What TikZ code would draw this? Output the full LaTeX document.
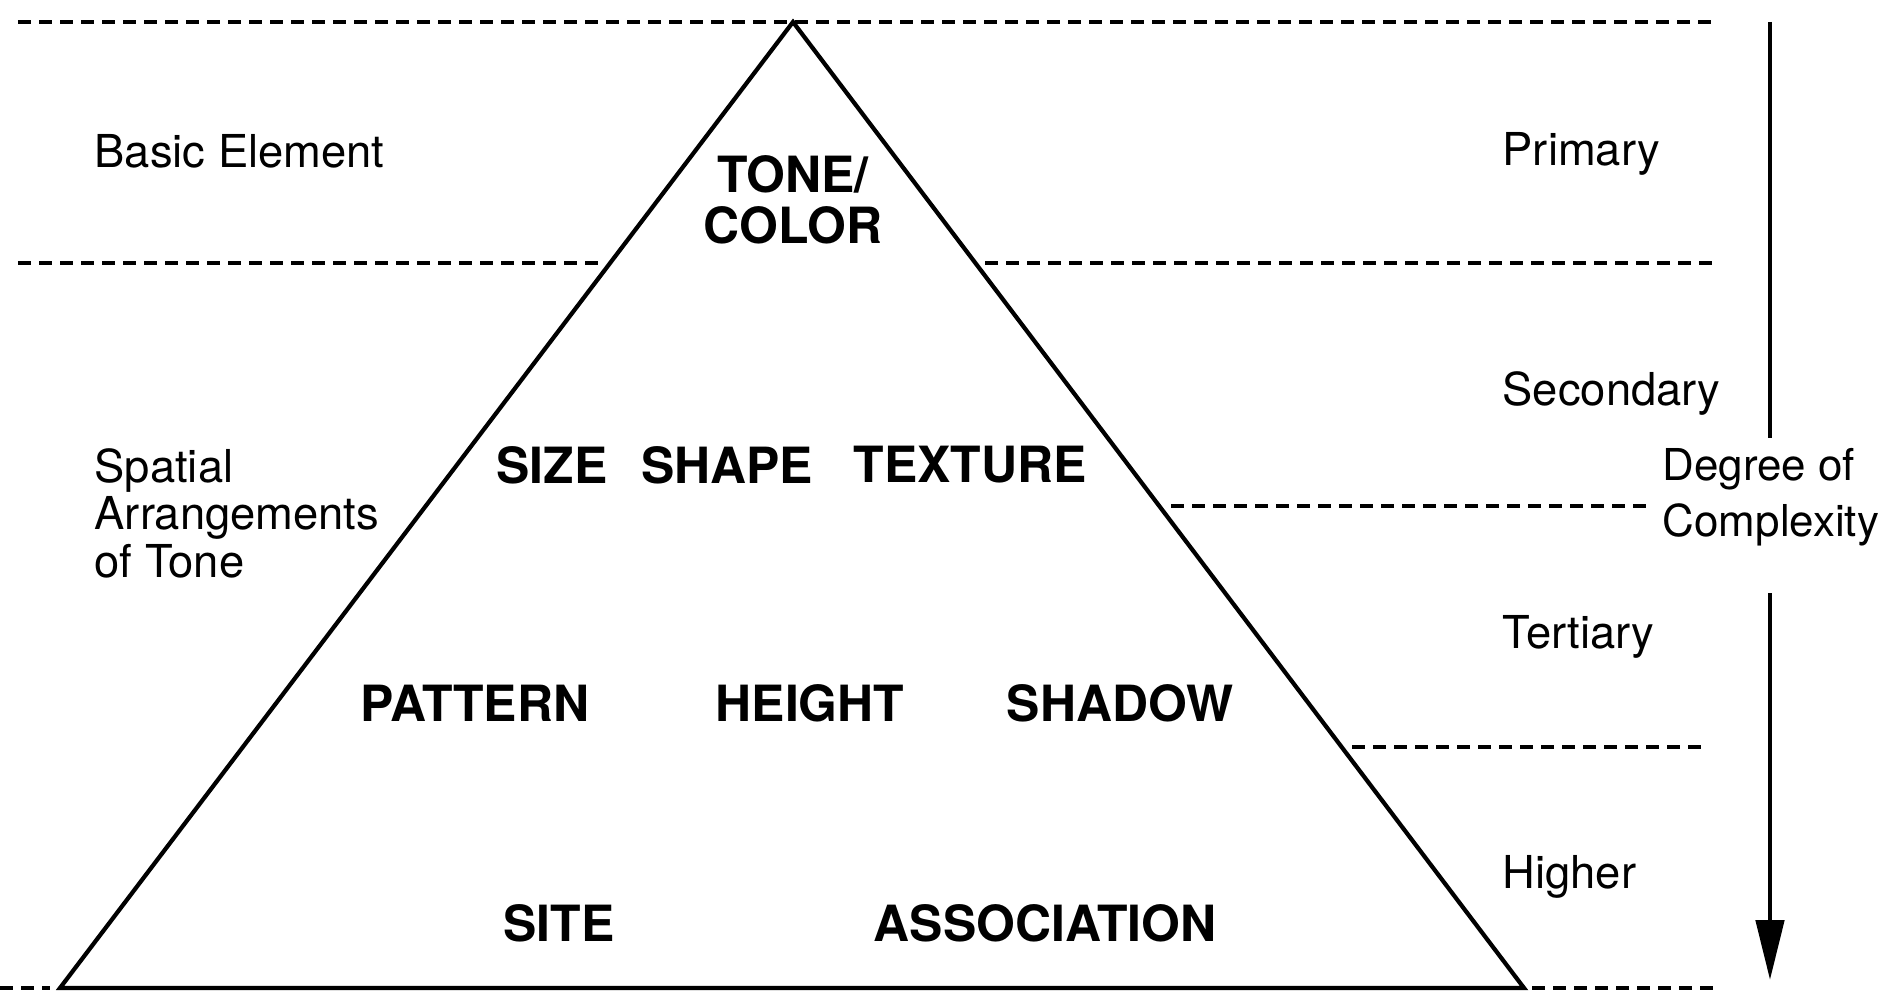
\documentclass[tikz,border=0pt]{standalone}
\usepackage{fontspec}
\setmainfont{TeX Gyre Heros}
\usetikzlibrary{arrows.meta}

\tikzset{
  level/.style={line width=1.1pt, dash pattern=on 0.13cm off 0.08cm},
  elem/.style={font=\fontsize{14.2}{14.6}\selectfont\bfseries, inner sep=0pt, align=center},
  side/.style={font=\fontsize{12.9}{13.5}\selectfont, inner sep=0pt, anchor=west, align=left}
}

\begin{document}
\begin{tikzpicture}
  \useasboundingbox (0,0) rectangle (18.84,9.95);

  % pyramid corners
  \coordinate (apex) at (7.93,9.73);
  \coordinate (bl)   at (0.60,0.07);
  \coordinate (br)   at (15.24,0.07);
  \draw[line width=1.2pt, line join=miter] (apex) -- (bl) -- (br) -- cycle;

  % level separators
  \coordinate (l1a) at (0.18,9.73);   \coordinate (l1b) at (17.18,9.73);
  \coordinate (l2a) at (0.18,7.32);   \coordinate (l2b) at (6.01,7.32);
  \coordinate (l2c) at (9.85,7.32);   \coordinate (l2d) at (17.12,7.32);
  \coordinate (l3a) at (11.71,4.89);  \coordinate (l3b) at (16.52,4.89);
  \coordinate (l4a) at (13.52,2.48);  \coordinate (l4b) at (17.06,2.48);
  \coordinate (l5a) at (0.00,0.07);   \coordinate (l5b) at (0.50,0.07);
  \coordinate (l5c) at (15.32,0.07);  \coordinate (l5d) at (17.18,0.07);
  \draw[level] (l1a) -- (l1b);
  \draw[level] (l2a) -- (l2b);
  \draw[level] (l2c) -- (l2d);
  \draw[level] (l3a) -- (l3b);
  \draw[level] (l4a) -- (l4b);
  \draw[level] (l5a) -- (l5b);
  \draw[level] (l5c) -- (l5d);

  % elements inside the pyramid
  \node[elem] (tone)    at (7.93,7.955) {TONE/\\COLOR};
  \node[elem] (size)    at (5.52,5.30)  {SIZE};
  \node[elem] (shape)   at (7.27,5.30)  {SHAPE};
  \node[elem] (texture) at (9.70,5.30)  {TEXTURE};
  \node[elem] (pattern) at (4.75,2.92)  {PATTERN};
  \node[elem] (height)  at (8.10,2.92)  {HEIGHT};
  \node[elem] (shadow)  at (11.20,2.92) {SHADOW};
  \node[elem] (site)    at (5.59,0.72)  {SITE};
  \node[elem] (assoc)   at (10.45,0.72) {ASSOCIATION};

  % left labels
  \node[side] (basic)   at (0.94,8.44) {Basic Element};
  \node[side] (spatial) at (0.94,4.82) {Spatial\\Arrangements\\of Tone};

  % right labels
  \node[side] (prim) at (15.02,8.41) {Primary};
  \node[side] (sec)  at (15.02,6.01) {Secondary};
  \node[side] (ter)  at (15.02,3.58) {Tertiary};
  \node[side] (high) at (15.02,1.18) {Higher};

  % complexity arrow
  \node[side, font=\fontsize{12.5}{16}\selectfont] (deg) at (16.62,4.975) {Degree of\\Complexity};
  \coordinate (a1) at (17.70,9.73);
  \coordinate (a2) at (17.70,5.57);
  \coordinate (a3) at (17.70,4.02);
  \coordinate (a4) at (17.70,0.15);
  \draw[line width=1.4pt] (a1) -- (a2);
  \draw[line width=1.4pt, -{Triangle[length=0.6cm, width=0.28cm]}] (a3) -- (a4);
\end{tikzpicture}
\end{document}
